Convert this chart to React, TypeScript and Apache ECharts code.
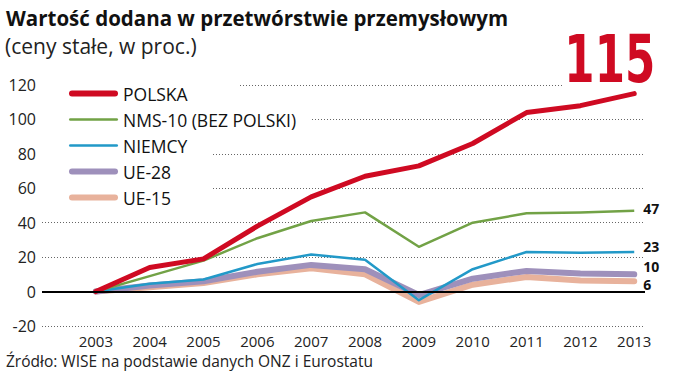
import React, { useEffect, useRef } from "react";
import * as echarts from "echarts";

const years = [2003, 2004, 2005, 2006, 2007, 2008, 2009, 2010, 2011, 2012, 2013];
const polska = [0, 14, 19, 38, 55, 67, 73, 86, 104, 108, 115];
const nms10 = [0, 9, 18, 31, 41, 46, 26, 40, 45.5, 46, 47];
const niemcy = [0, 4.5, 7, 16, 21.5, 18.5, -5, 13, 23, 22.5, 23];
const ue28 = [0, 3.5, 6, 11.5, 15.5, 13, -2, 7.5, 12, 10.5, 10];
const ue15 = [0, 2.5, 5, 10, 13.5, 10, -6, 4, 8.5, 6.5, 6];

const seriesNames = ["POLSKA", "NMS-10 (BEZ POLSKI)", "NIEMCY", "UE-28", "UE-15"];
const yMin = -20;
const yMax = 120;
const yStep = 20;

const titleText = "Wartość dodana w przetwórstwie przemysłowym";
const subtitleText = "(ceny stałe, w proc.)";
const sourceText = "Źródło: WISE na podstawie danych ONZ i Eurostatu";

const FONT = "'Open Sans', 'Noto Sans', sans-serif";
const RED = "#cf0a22";
const GREEN = "#72a246";
const BLUE = "#2299c8";
const PURPLE = "#9e90bb";
const PEACH = "#e8b29c";

const THICK = "path://M3,0H46A3,3,0,0,1,46,6H3A3,3,0,0,1,3,0Z";
const THIN = "path://M1.25,0H47.75A1.25,1.25,0,0,1,47.75,2.5H1.25A1.25,1.25,0,0,1,1.25,0Z";

const toPairs = (vals: number[]) => years.map((y, i) => [y, vals[i]]);

export default function App() {
  const ref = useRef<HTMLDivElement>(null);

  useEffect(() => {
    if (!ref.current) return;
    const chart = echarts.init(ref.current, undefined, { renderer: "svg" });

    const endLabel = (dy: number) => ({
      show: true,
      formatter: (p: any) => String(Math.round(p.value[1])),
      fontFamily: FONT,
      fontWeight: "bold",
      fontSize: 14,
      color: "#111",
      distance: 9,
      offset: [0, dy],
    });

    const option: any = {
      animation: false,
      backgroundColor: "#fff",
      title: [
        {
          text: titleText,
          left: 6,
          top: 7,
          padding: 0,
          textStyle: { fontFamily: FONT, fontSize: 20.5, fontWeight: "bold", color: "#111" },
        },
        {
          text: subtitleText,
          left: 5,
          top: 35,
          padding: 0,
          textStyle: { fontFamily: FONT, fontSize: 21, fontWeight: "normal", color: "#222" },
        },
      ],
      legend: {
        orient: "vertical",
        left: 64,
        top: 79,
        itemWidth: 49,
        itemHeight: 10,
        itemGap: 7,
        selectedMode: false,
        textStyle: { fontFamily: FONT, fontSize: 17.5, lineHeight: 19, color: "#111" },
        data: [
          { name: seriesNames[0], icon: THICK },
          { name: seriesNames[1], icon: THIN },
          { name: seriesNames[2], icon: THIN },
          { name: seriesNames[3], icon: THICK },
          { name: seriesNames[4], icon: THICK },
        ],
      },
      grid: { left: 42, right: 30, top: 85, bottom: 58 },
      xAxis: {
        type: "value",
        min: 2002,
        max: 2013.2,
        interval: 1,
        splitLine: { show: false },
        axisLine: { show: false },
        axisTick: { show: false },
        axisLabel: {
          fontFamily: FONT,
          fontSize: 15,
          color: "#222",
          margin: 7,
          formatter: (v: number) =>
            Number.isInteger(v) && v >= years[0] && v <= years[years.length - 1] ? String(v) : "",
        },
      },
      yAxis: {
        type: "value",
        min: yMin,
        max: yMax,
        interval: yStep,
        axisLine: { show: false },
        axisTick: { show: false },
        axisLabel: { fontFamily: FONT, fontSize: 16, color: "#222", margin: 6 },
        splitLine: { lineStyle: { color: "#666", width: 1, type: [1, 2] } },
      },
      series: [
        {
          name: seriesNames[4],
          type: "line",
          data: toPairs(ue15),
          symbol: "none",
          color: PEACH,
          itemStyle: { color: PEACH },
          lineStyle: { color: PEACH, width: 6, cap: "round", join: "round" },
          endLabel: endLabel(3),
          z: 2,
          markLine: {
            silent: true,
            symbol: ["none", "none"],
            label: { show: false },
            lineStyle: { color: "#000", width: 2, type: "solid" },
            data: [{ yAxis: 0 }],
          },
        },
        {
          name: seriesNames[3],
          type: "line",
          data: toPairs(ue28),
          symbol: "none",
          color: PURPLE,
          itemStyle: { color: PURPLE },
          lineStyle: { color: PURPLE, width: 6, cap: "round", join: "round" },
          endLabel: endLabel(-8),
          z: 3,
        },
        {
          name: seriesNames[2],
          type: "line",
          data: toPairs(niemcy),
          symbol: "none",
          color: BLUE,
          itemStyle: { color: BLUE },
          lineStyle: { color: BLUE, width: 2.5, join: "round" },
          endLabel: endLabel(-5),
          z: 3,
        },
        {
          name: seriesNames[1],
          type: "line",
          data: toPairs(nms10),
          symbol: "none",
          color: GREEN,
          itemStyle: { color: GREEN },
          lineStyle: { color: GREEN, width: 2.5, join: "round" },
          endLabel: endLabel(-2),
          z: 3,
        },
        {
          name: seriesNames[0],
          type: "line",
          data: toPairs(polska),
          symbol: "none",
          color: RED,
          itemStyle: { color: RED },
          lineStyle: { color: RED, width: 5, cap: "round", join: "round" },
          z: 4,
        },
      ],
    };

    chart.setOption(option);

    // white covers that interrupt the dotted grid lines behind legend and big number
    const covers = [
      { v: 120, x0: 40, x1: 240 },
      { v: 100, x0: 40, x1: 312 },
      { v: 80, x0: 40, x1: 212 },
      { v: 60, x0: 40, x1: 212 },
      { v: 120, x0: 562, x1: 650 },
    ];
    const lastIdx = years.length - 1;
    const endPt = chart.convertToPixel({ gridIndex: 0 }, [years[lastIdx], polska[lastIdx]]) as number[];
    const elements: any[] = covers.map((c) => {
      const py = chart.convertToPixel({ yAxisIndex: 0 }, c.v) as number;
      return {
        type: "rect",
        z: 1,
        silent: true,
        shape: { x: c.x0, y: py - 2, width: c.x1 - c.x0, height: 4 },
        style: { fill: "#fff" },
      };
    });
    elements.push({
      type: "text",
      z: 10,
      silent: true,
      x: endPt[0] + 21,
      y: endPt[1] - 34,
      scaleX: 0.67,
      style: {
        text: String(polska[lastIdx]),
        fontFamily: "'DejaVu Sans', sans-serif",
        fontWeight: "bold",
        fontSize: 65,
        fill: RED,
        align: "right",
        verticalAlign: "middle",
      },
    });
    elements.push({
      type: "text",
      z: 10,
      silent: true,
      left: 6,
      top: 353,
      style: { text: sourceText, fontFamily: FONT, fontSize: 15.5, fill: "#222" },
    });
    chart.setOption({ graphic: { elements } });

    return () => chart.dispose();
  }, []);

  return (
    <div
      ref={ref}
      style={{ position: "fixed", left: 0, top: 0, width: 675, height: 384, background: "#fff" }}
    />
  );
}
